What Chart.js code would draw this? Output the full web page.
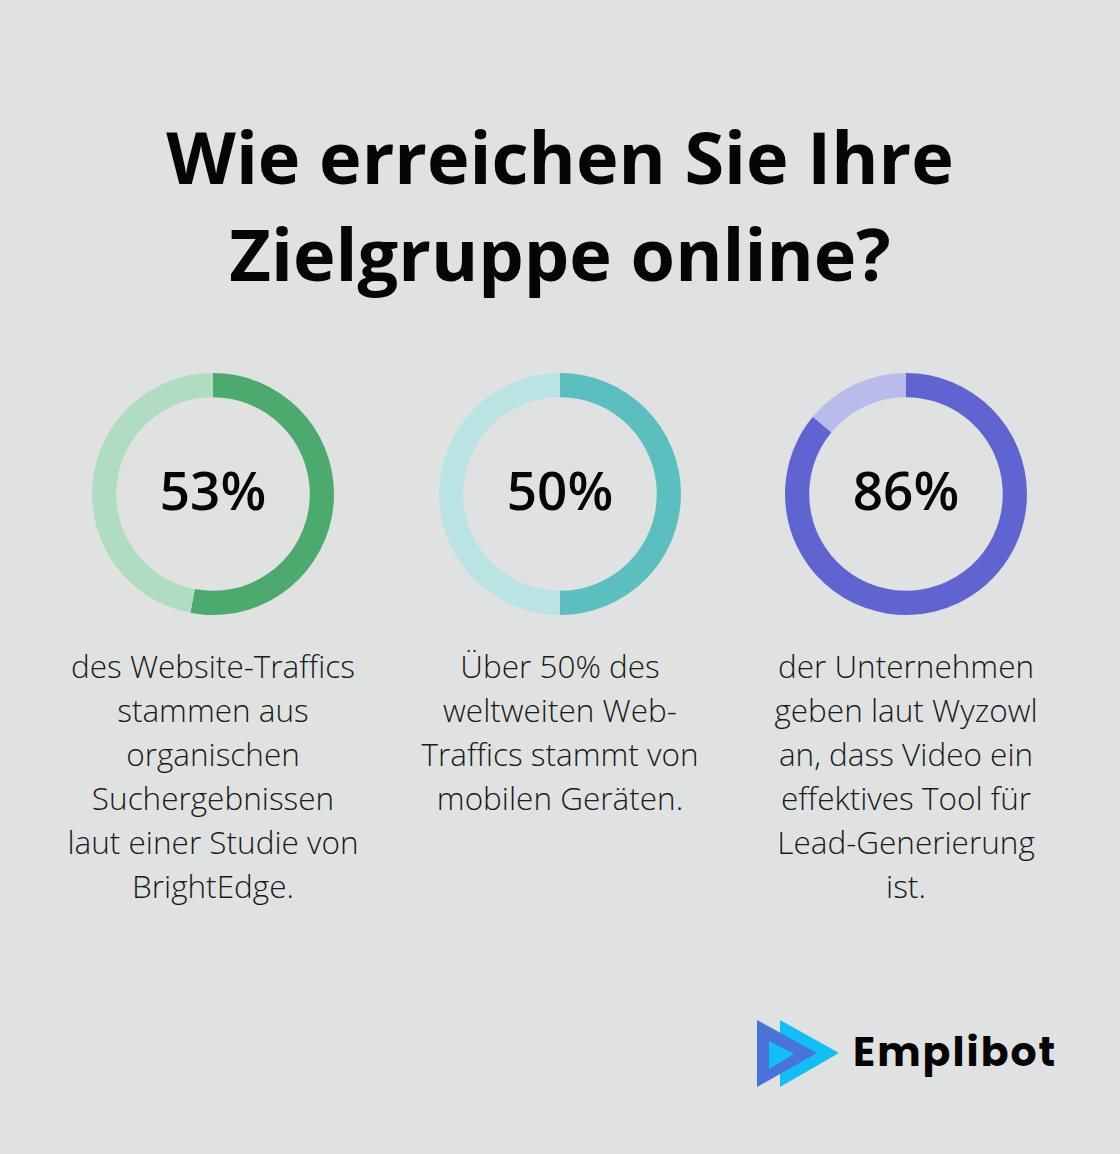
<!DOCTYPE html>
<html>
<head>
<meta charset="utf-8">
<script src="https://cdn.jsdelivr.net/npm/chart.js@4"></script>
<style>
  html, body { margin: 0; padding: 0; }
  body { width: 1120px; height: 1154px; background: #e0e2e1; position: relative; overflow: hidden; font-family: "Open Sans", sans-serif; color: #111; }
  h1 { position: absolute; top: 108px; left: 0; width: 1120px; margin: 0; text-align: center; font-size: 72px; font-weight: 700; line-height: 97px; color: #050505; }
  .donut { position: absolute; top: 373px; width: 242px; height: 242px; }
  .desc { position: absolute; top: 644px; width: 340px; text-align: center; font-size: 31.5px; line-height: 44px; font-weight: 300; color: #1a1a1a; white-space: nowrap; }
  .logo { position: absolute; left: 755px; top: 1016px; }
</style>
</head>
<body>
<h1>Wie erreichen Sie Ihre<br>Zielgruppe online?</h1>

<div class="donut" style="left:92px"><canvas id="c0"></canvas></div>
<div class="donut" style="left:439px"><canvas id="c1"></canvas></div>
<div class="donut" style="left:785px"><canvas id="c2"></canvas></div>

<div class="desc" style="left:43px">des Website-Traffics<br>stammen aus<br>organischen<br>Suchergebnissen<br>laut einer Studie von<br>BrightEdge.</div>
<div class="desc" style="left:390px">Über 50% des<br>weltweiten Web-<br>Traffics stammt von<br>mobilen Geräten.</div>
<div class="desc" style="left:736px">der Unternehmen<br>geben laut Wyzowl<br>an, dass Video ein<br>effektives Tool für<br>Lead-Generierung<br>ist.</div>

<svg class="logo" width="320" height="80" viewBox="0 0 320 80">
  <polygon points="25,4 25,71 84,37" fill="#10bff5"/>
  <polygon points="2,4 2,71 62,37" fill="#4a73d9"/>
  <polygon points="14,25 14,53 39,38" fill="#10bff5"/>
  <text x="98" y="50" font-family="Poppins, Inter, sans-serif" font-weight="700" font-size="41" fill="#050505" letter-spacing="2">Emplibot</text>
</svg>

<script>
const percents = [53, 50, 86];
const labels = ['53%', '50%', '86%'];
const darkColors = ['#4daa6e', '#5bbfc0', '#6064d0'];
const lightColors = ['#b0ddc2', '#bae3e4', '#b9bbea'];

const centerText = {
  id: 'centerText',
  afterDraw(chart, args, opts) {
    const ctx = chart.ctx;
    const a = chart.chartArea;
    ctx.save();
    ctx.font = '600 53px "Open Sans"';
    ctx.fillStyle = '#050505';
    ctx.textAlign = 'center';
    ctx.textBaseline = 'middle';
    ctx.fillText(opts.text, (a.left + a.right) / 2, (a.top + a.bottom) / 2 + 1);
    ctx.restore();
  }
};

percents.forEach((p, i) => {
  new Chart(document.getElementById('c' + i), {
    type: 'doughnut',
    data: {
      labels: ['Anteil', 'Rest'],
      datasets: [{
        data: [p, 100 - p],
        backgroundColor: [darkColors[i], lightColors[i]],
        borderWidth: 0
      }]
    },
    options: {
      responsive: true,
      maintainAspectRatio: false,
      animation: false,
      cutout: '80%',
      plugins: {
        legend: { display: false },
        tooltip: { enabled: false },
        centerText: { text: labels[i] }
      }
    },
    plugins: [centerText]
  });
});
</script>
</body>
</html>
